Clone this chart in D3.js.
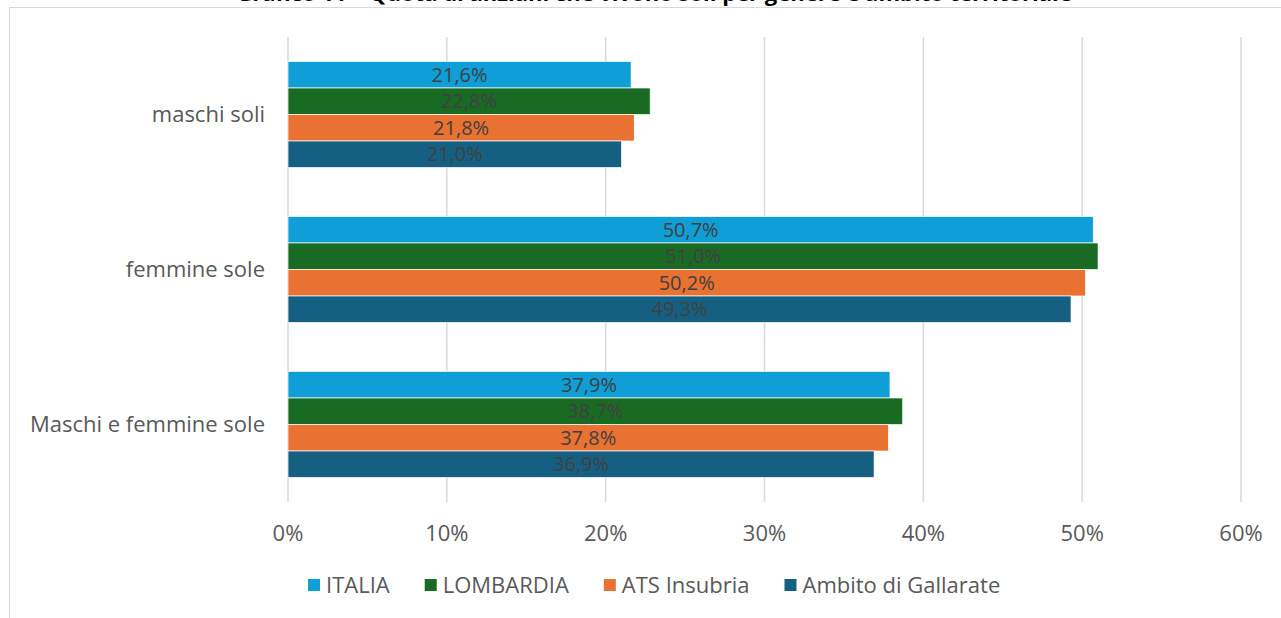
<!DOCTYPE html>
<html>
<head>
<meta charset="utf-8">
<script src="https://cdn.jsdelivr.net/npm/d3@7"></script>
<style>
  html, body { margin: 0; padding: 0; background: #fff; }
  svg { display: block; }
</style>
</head>
<body>
<div id="chart"></div>
<script>
// Chart data
const categories = ["maschi soli", "femmine sole", "Maschi e femmine sole"];
const seriesNames = ["ITALIA", "LOMBARDIA", "ATS Insubria", "Ambito di Gallarate"];
const italia = [21.6, 50.7, 37.9];
const lombardia = [22.8, 51.0, 38.7];
const atsInsubria = [21.8, 50.2, 37.8];
const ambitoGallarate = [21.0, 49.3, 36.9];
const xTicks = [0, 10, 20, 30, 40, 50, 60];
const colors = ["#0F9ED5", "#196B24", "#E97132", "#156082"];

const seriesValues = [italia, lombardia, atsInsubria, ambitoGallarate];

// Set up the SVG canvas
const width = 1281;
const height = 618;
const font = "'Open Sans', 'Liberation Sans', sans-serif";
const fontSize = "22px";

const svg = d3.select("#chart")
    .append("svg")
    .attr("width", width)
    .attr("height", height);

// Chart frame
svg.append("rect")
    .attr("x", 9.5)
    .attr("y", 7.5)
    .attr("width", width + 20)
    .attr("height", height + 20)
    .attr("fill", "#fff")
    .attr("stroke", "#d9d9d9")
    .attr("stroke-width", 1);

// Title (mostly cut off at the top of the picture, as in the original)
svg.append("text")
    .attr("x", 654)
    .attr("y", 1)
    .attr("text-anchor", "middle")
    .attr("font-family", font)
    .attr("font-size", fontSize)
    .attr("font-weight", "bold")
    .attr("fill", "#000")
    .text("Grafico 11 – Quota di anziani che vivono soli per genere e ambito territoriale");

// Scales
const x = d3.scaleLinear().domain([0, 60]).range([288, 1241]);
const y0 = d3.scaleBand()
    .domain(categories)
    .range([37, 502])
    .paddingInner(0.316)
    .paddingOuter(0.158);
const y1 = d3.scaleBand()
    .domain(seriesNames)
    .range([0, y0.bandwidth()]);

// Gridlines
svg.append("g")
    .selectAll("line")
    .data(xTicks)
    .enter().append("line")
    .attr("x1", d => x(d))
    .attr("x2", d => x(d))
    .attr("y1", 37)
    .attr("y2", 502)
    .attr("stroke", "#d9d9d9")
    .attr("stroke-width", 1.5);

// X axis tick labels
svg.append("g")
    .selectAll("text")
    .data(xTicks)
    .enter().append("text")
    .attr("x", d => x(d))
    .attr("y", 533)
    .attr("dy", "0.35em")
    .attr("text-anchor", "middle")
    .attr("font-family", font)
    .attr("font-size", fontSize)
    .attr("fill", "#595959")
    .text(d => d + "%");

// Category labels
svg.append("g")
    .selectAll("text")
    .data(categories)
    .enter().append("text")
    .attr("x", 265)
    .attr("y", d => y0(d) + y0.bandwidth() / 2)
    .attr("dy", "0.35em")
    .attr("text-anchor", "end")
    .attr("font-family", font)
    .attr("font-size", fontSize)
    .attr("fill", "#595959")
    .text(d => d);

// Flatten for bars
const barData = [];
categories.forEach((c, i) => {
    seriesNames.forEach((s, j) => {
        barData.push({ category: c, series: s, value: seriesValues[j][i], color: colors[j] });
    });
});

// Bars
svg.append("g")
    .selectAll("rect")
    .data(barData)
    .enter().append("rect")
    .attr("x", x(0))
    .attr("y", d => y0(d.category) + y1(d.series))
    .attr("width", d => x(d.value) - x(0))
    .attr("height", y1.bandwidth())
    .attr("fill", d => d.color)
    .attr("stroke", "#ffffff")
    .attr("stroke-width", 0.7);

// Data labels (a bit smaller so they stay inside their bar)
const fmt = v => v.toFixed(1).replace(".", ",") + "%";
svg.append("g")
    .selectAll("text")
    .data(barData)
    .enter().append("text")
    .attr("x", d => (x(0) + x(d.value)) / 2)
    .attr("y", d => y0(d.category) + y1(d.series) + y1.bandwidth() / 2)
    .attr("dy", "0.35em")
    .attr("text-anchor", "middle")
    .attr("font-family", font)
    .attr("font-size", "20px")
    .attr("fill", "#404040")
    .text(d => fmt(d.value));

// Legend: laid out left to right from measured text widths
const legend = svg.append("g");
let lx = 308;
seriesNames.forEach((name, i) => {
    legend.append("rect")
        .attr("x", lx)
        .attr("y", 579)
        .attr("width", 12)
        .attr("height", 12)
        .attr("fill", colors[i]);
    const t = legend.append("text")
        .attr("x", lx + 18)
        .attr("y", 585)
        .attr("dy", "0.35em")
        .attr("font-family", font)
        .attr("font-size", fontSize)
        .attr("fill", "#595959")
        .text(name);
    lx += 18 + t.node().getComputedTextLength() + 35;
});
</script>
</body>
</html>
